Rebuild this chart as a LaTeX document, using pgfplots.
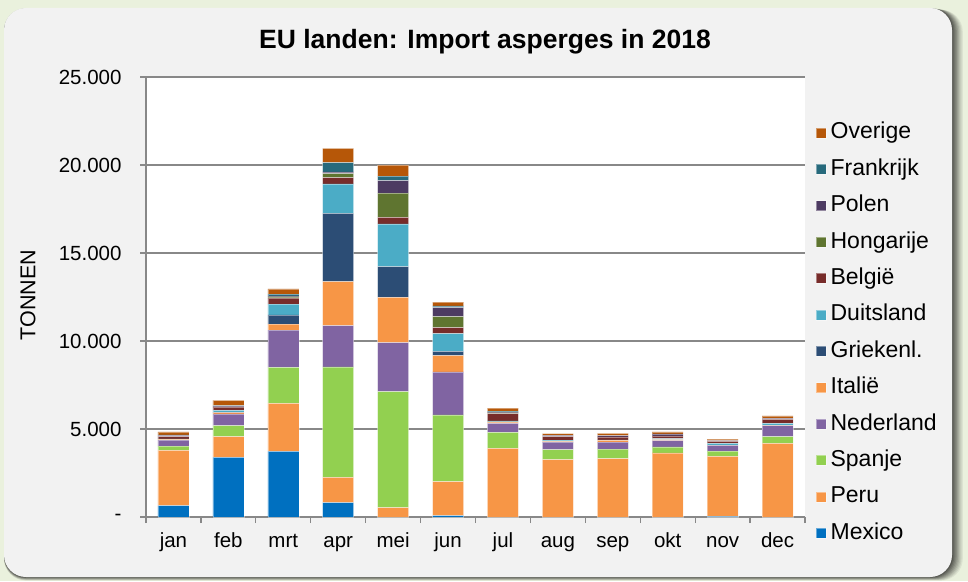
\documentclass[border=0pt]{standalone}
\usepackage{fontspec}
\setmainfont{Liberation Sans}
\usepackage{pgfplots}
\usepackage{pgfplotstable}
\pgfplotsset{compat=1.18}
\definecolor{cMex}{HTML}{0070C0}
\definecolor{cPeru}{HTML}{F79646}
\definecolor{cSpa}{HTML}{92D050}
\definecolor{cNed}{HTML}{8064A2}
\definecolor{cIta}{HTML}{F79646}
\definecolor{cGri}{HTML}{2C4D75}
\definecolor{cDui}{HTML}{4BACC6}
\definecolor{cBel}{HTML}{772C2A}
\definecolor{cHon}{HTML}{5F7530}
\definecolor{cPol}{HTML}{4D3B62}
\definecolor{cFra}{HTML}{276A7C}
\definecolor{cOve}{HTML}{B65708}
\definecolor{bggreen}{HTML}{EAF1DD}
\definecolor{panel}{HTML}{F2F2F2}
\definecolor{gridgray}{HTML}{888888}

\pgfplotstableread{
m  Mex  Peru Spa  Ned  Ita  Gri  Dui  Bel Hon  Pol Fra Ove
0  640  3150 240  340  40   0    30   130 0    70  30  160
1  3390 1170 625  680  60   30   100  190 0    60  30  290
2  3730 2730 2040 2120 340  530  600  350 60   60  100 300
3  814  1440 6270 2350 2500 3880 1670 360 230  90  530 810
4  0    530  6590 2785 2576 1742 2425 380 1380 700 265 625
5  80   1930 3790 2444 930  230  1020 340 625  510 95  210
6  0    3900 910  510  80   0    60   420 40   40  50  180
7  0    3260 565  435  40   0    70   190 0    80  0   100
8  0    3310 550  400  100  0    20   170 0    80  0   120
9  0    3640 340  360  60   0    50   160 0    110 0   110
10 30   3420 300  320  20   0    90   120 0    40  0   80
11 0    4190 375  625  30   0    100  230 0    60  0   130
}\datatable

\begin{document}
\begin{tikzpicture}[x=1pt,y=1pt]
\fill[bggreen] (0,0) rectangle (968,581);
\foreach \i/\o in {9/0.06,8/0.07,7/0.08,6/0.09,5/0.1,4/0.11,3/0.12,2/0.14,1/0.16}{
  \fill[black,opacity=\o,rounded corners=22pt] (4,{4-\i*0.4}) rectangle ({952+\i*1.2},{573-\i*0.2});
}
\fill[panel,rounded corners=22pt] (4,4) rectangle (952,573);

\begin{axis}[
  at={(146pt,64pt)}, anchor=south west,
  scale only axis, width=659pt, height=440pt,
  ybar stacked, bar width=31pt,
  xmin=-0.5, xmax=11.5, ymin=0, ymax=25000,
  scaled y ticks=false,
  axis background/.style={fill=white},
  axis x line*=bottom, axis y line*=left,
  axis line style={draw=gridgray, line width=1.3pt},
  ytick={0,5000,10000,15000,20000,25000},
  yticklabels={-,5.000,10.000,15.000,20.000,25.000},
  ymajorgrids, grid style={draw=gridgray, line width=1.3pt},
  xtick={-0.5,0.5,...,11.5}, xticklabels={},
  extra x ticks={0,1,2,3,4,5,6,7,8,9,10,11},
  extra x tick labels={jan,feb,mrt,apr,mei,jun,jul,aug,sep,okt,nov,dec},
  extra x tick style={major tick length=0pt, grid=none},
  tick align=outside, major tick length=6pt,
  tick style={draw=gridgray, line width=1.3pt},
  ticklabel style={font=\fontsize{20.5}{24}\selectfont},
  xticklabel style={anchor=north, text height=15pt, text depth=5pt, yshift=-12pt},
  yticklabel style={xshift=-15pt},
  /pgf/number format/assume math mode=true,
  legend style={at={(1.012,0.418)}, anchor=west, draw=none, fill=none,
    font=\fontsize{23}{27}\selectfont, row sep=14.4pt,
    nodes={inner ysep=0pt, inner xsep=4pt, text height=17pt, text depth=5pt}},
  legend cell align=left,
  reverse legend,
  legend image code/.code={\fill[#1] (0pt,-5pt) rectangle (10pt,5pt);},
]
\addplot[fill=cMex, draw=white, draw opacity=0.4, line width=0.5pt] table[x=m,y=Mex]{\datatable};
\addplot[fill=cPeru, draw=white, draw opacity=0.4, line width=0.5pt] table[x=m,y=Peru]{\datatable};
\addplot[fill=cSpa, draw=white, draw opacity=0.4, line width=0.5pt] table[x=m,y=Spa]{\datatable};
\addplot[fill=cNed, draw=white, draw opacity=0.4, line width=0.5pt] table[x=m,y=Ned]{\datatable};
\addplot[fill=cIta, draw=white, draw opacity=0.4, line width=0.5pt] table[x=m,y=Ita]{\datatable};
\addplot[fill=cGri, draw=white, draw opacity=0.4, line width=0.5pt] table[x=m,y=Gri]{\datatable};
\addplot[fill=cDui, draw=white, draw opacity=0.4, line width=0.5pt] table[x=m,y=Dui]{\datatable};
\addplot[fill=cBel, draw=white, draw opacity=0.4, line width=0.5pt] table[x=m,y=Bel]{\datatable};
\addplot[fill=cHon, draw=white, draw opacity=0.4, line width=0.5pt] table[x=m,y=Hon]{\datatable};
\addplot[fill=cPol, draw=white, draw opacity=0.4, line width=0.5pt] table[x=m,y=Pol]{\datatable};
\addplot[fill=cFra, draw=white, draw opacity=0.4, line width=0.5pt] table[x=m,y=Fra]{\datatable};
\addplot[fill=cOve, draw=white, draw opacity=0.4, line width=0.5pt] table[x=m,y=Ove]{\datatable};
\legend{Mexico,Peru,Spanje,Nederland,Italië,Griekenl.,Duitsland,België,Hongarije,Polen,Frankrijk,Overige}
\end{axis}

\node[font=\bfseries\fontsize{26.5}{30}\selectfont] at (485,539) {EU landen: Import asperges in 2018};
\node[rotate=90, font=\fontsize{21.5}{25}\selectfont] at (28,286) {TONNEN};

\pgfresetboundingbox
\useasboundingbox (0,0) rectangle (968,581);
\end{tikzpicture}
\end{document}
